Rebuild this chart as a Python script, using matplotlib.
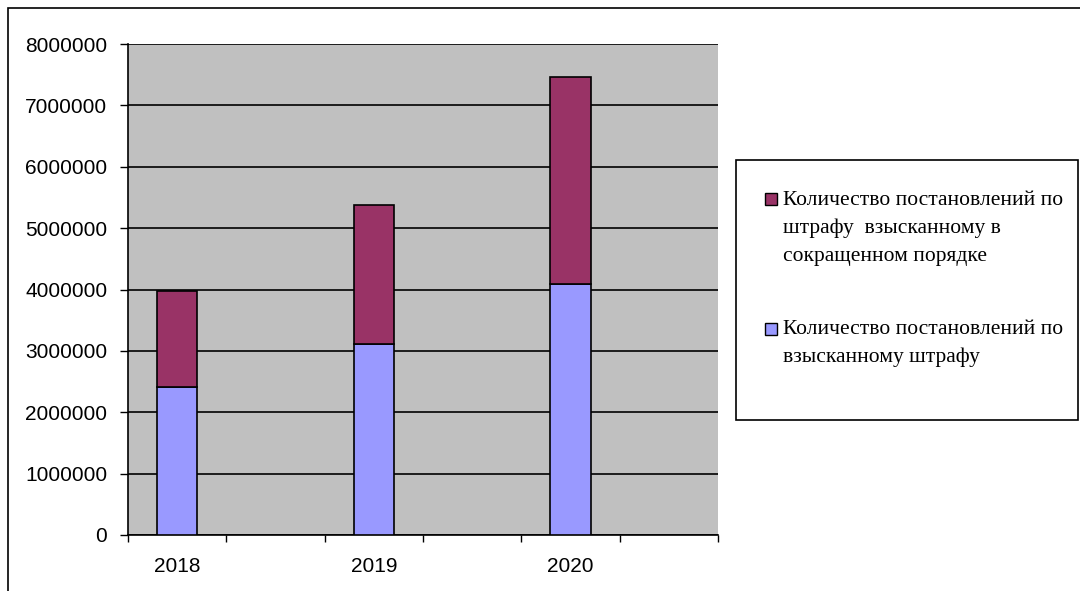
import numpy as np
import matplotlib.pyplot as plt
from matplotlib.patches import Rectangle

years = ['2018', '', '2019', '', '2020', '']
collected = [2410000, 0, 3110000, 0, 4090000, 0]
shortened = [1570000, 0, 2260000, 0, 3370000, 0]
label_top = "Количество постановлений по\nштрафу  взысканному в\nсокращенном порядке"
label_bottom = "Количество постановлений по\nвзысканному штрафу"
color_bottom = '#9999ff'
color_top = '#993366'

W, H = 1080, 591
fig = plt.figure(figsize=(W / 100, H / 100), dpi=100)
ax = fig.add_axes([128 / W, 56 / H, 590 / W, 491 / H])
ax.set_facecolor('#c0c0c0')

x = np.arange(len(years))
b1 = ax.bar(x, collected, width=0.41, color=color_bottom, edgecolor='black', linewidth=1.2, zorder=3)
b2 = ax.bar(x, shortened, width=0.41, bottom=collected, color=color_top, edgecolor='black',
            linewidth=1.2, zorder=3)
# empty categories between the years
for i, y in enumerate(years):
    if y == '':
        b1[i].set_visible(False)
        b2[i].set_visible(False)

ax.set_xlim(-0.5, len(years) - 0.5)
ax.set_ylim(0, 8000000)
ax.set_yticks(np.arange(0, 8000001, 1000000))
ax.set_yticklabels([str(v) for v in range(0, 8000001, 1000000)], fontsize=15,
                   family='Liberation Sans')
ax.yaxis.grid(True, color='black', linewidth=1.2, zorder=1)
ax.set_axisbelow(True)

ax.set_xticks(np.arange(-0.5, len(years), 1.0))
ax.set_xticklabels([])
ax.set_xticks(x, minor=True)
ax.set_xticklabels(years, minor=True, fontsize=15, family='Liberation Sans')
ax.tick_params(axis='x', which='major', direction='out', length=5, width=1)
ax.tick_params(axis='x', which='minor', length=0, pad=15.5)
ax.tick_params(axis='y', direction='out', length=6, width=1, pad=9)

for s in ['top', 'right']:
    ax.spines[s].set_visible(False)
ax.spines['left'].set_linewidth(1.2)
ax.spines['bottom'].set_linewidth(1.2)

# outer chart frame
fig.add_artist(Rectangle((8 / W, -0.05), 1.1, (H - 8) / H + 0.05, transform=fig.transFigure,
                         fill=False, edgecolor='black', linewidth=1.2))
# legend frame
fig.add_artist(Rectangle((736 / W, (H - 420) / H), 342 / W, 260 / H,
                         transform=fig.transFigure, fill=False, edgecolor='black', linewidth=1.2))

# legend entries, marker next to the first line of each label
entries = [(label_top, color_top, 193, 191), (label_bottom, color_bottom, 323, 320)]
for label, color, marker_top, text_top in entries:
    fig.add_artist(Rectangle((765 / W, (H - marker_top - 12) / H), 12 / W, 12 / H,
                             transform=fig.transFigure, facecolor=color, edgecolor='black',
                             linewidth=1))
    fig.text(783 / W, (H - text_top) / H, label, ha='left', va='top',
             family='Liberation Serif', fontsize=15.5, linespacing=1.6)

fig.savefig('out.png', dpi=100)
